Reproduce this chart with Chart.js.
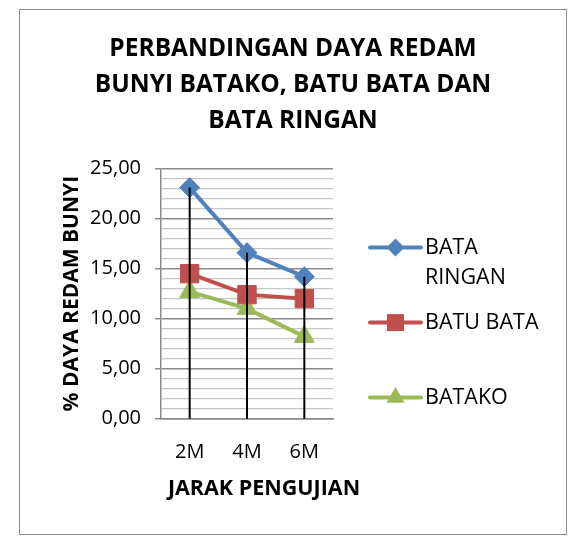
<!DOCTYPE html>
<html lang="id">
<head>
    <meta charset="UTF-8">
    <title>Perbandingan Daya Redam Bunyi</title>
    <script src="https://cdn.jsdelivr.net/npm/chart.js"></script>
    <style>
        * {
            margin: 0;
            padding: 0;
            box-sizing: border-box;
        }

        body {
            background-color: #fff;
            width: 579px;
            height: 541px;
            overflow: hidden;
            position: relative;
        }

        .frame {
            position: absolute;
            left: 19px;
            top: 9px;
            width: 548px;
            height: 526px;
            border: 1.5px solid #8e8e8e;
        }

        #chart {
            position: absolute;
            left: 20px;
            top: 10px;
        }
    </style>
</head>
<body>
    <div class="frame"></div>
    <canvas id="chart" width="546" height="524"></canvas>

    <script>
        // Data
        const categories = ['2M', '4M', '6M'];
        const seriesNames = [['BATA', 'RINGAN'], ['BATU BATA'], ['BATAKO']];
        const bataRingan = [23.1, 16.6, 14.2];
        const batuBata = [14.5, 12.4, 12.0];
        const batako = [12.7, 11.0, 8.2];
        const yMin = 0;
        const yMax = 25;
        const yMajorStep = 5;
        const yMinorStep = 1;
        const xTitle = 'JARAK PENGUJIAN';

        const FONT = "'Open Sans', sans-serif";
        const seriesColors = ['#4F81BD', '#C0504D', '#9BBB59'];
        const seriesMarkers = ['rectRot', 'rect', 'triangle'];
        const markerRadius = [10, 13, 11.5];
        const allSeries = [bataRingan, batuBata, batako];

        // small marker painter for the side legend
        function drawMarker(ctx, style, x, y, r, color) {
            ctx.save();
            ctx.fillStyle = color;
            ctx.beginPath();
            if (style === 'rectRot') {
                ctx.moveTo(x, y - r);
                ctx.lineTo(x + r, y);
                ctx.lineTo(x, y + r);
                ctx.lineTo(x - r, y);
            } else if (style === 'rect') {
                const s = r * Math.SQRT1_2;
                ctx.rect(x - s, y - s, 2 * s, 2 * s);
            } else {
                ctx.moveTo(x, y - r);
                ctx.lineTo(x + r * 0.866, y + r * 0.5);
                ctx.lineTo(x - r * 0.866, y + r * 0.5);
            }
            ctx.closePath();
            ctx.fill();
            ctx.restore();
        }

        // Excel style drop lines: from the highest point down to the axis
        const dropLines = {
            id: 'dropLines',
            afterDatasetsDraw(chart) {
                const ctx = chart.ctx;
                const xs = chart.scales.x;
                const ys = chart.scales.y;
                ctx.save();
                ctx.strokeStyle = '#000';
                ctx.lineWidth = 2;
                categories.forEach((c, i) => {
                    const top = Math.max(...allSeries.map(s => s[i]));
                    const x = xs.getPixelForValue(i);
                    ctx.beginPath();
                    ctx.moveTo(x, ys.getPixelForValue(top));
                    ctx.lineTo(x, ys.getPixelForValue(yMin));
                    ctx.stroke();
                });
                ctx.restore();
            }
        };

        // legend on the right (first item wraps on two lines) + x axis title,
        // which Excel puts a bit right of the plot centre
        const sideLegend = {
            id: 'sideLegend',
            afterDraw(chart) {
                const ctx = chart.ctx;
                const area = chart.chartArea;
                const x0 = area.right + 37;
                let y = area.top + 79;
                ctx.save();
                ctx.textBaseline = 'middle';
                ctx.fillStyle = '#000';

                ctx.font = 'bold 21.5px ' + FONT;
                ctx.textAlign = 'center';
                ctx.fillText(xTitle, (area.left + area.right) / 2 + 17, area.bottom + 70);

                ctx.font = '21.5px ' + FONT;
                ctx.textAlign = 'left';
                seriesNames.forEach((lines, i) => {
                    ctx.strokeStyle = seriesColors[i];
                    ctx.lineWidth = 4;
                    ctx.lineCap = 'round';
                    ctx.beginPath();
                    ctx.moveTo(x0, y);
                    ctx.lineTo(x0 + 51, y);
                    ctx.stroke();
                    drawMarker(ctx, seriesMarkers[i], x0 + 25.5, y, markerRadius[i] - 1, seriesColors[i]);
                    lines.forEach((t, j) => ctx.fillText(t, x0 + 55, y + j * 30.5));
                    y += 75;
                });
                ctx.restore();
            }
        };

        const datasets = allSeries.map((values, i) => ({
            label: seriesNames[i].join(' '),
            data: values,
            borderColor: seriesColors[i],
            backgroundColor: seriesColors[i],
            borderWidth: 4,
            pointStyle: seriesMarkers[i],
            pointRadius: markerRadius[i],
            pointBorderWidth: 1,
            tension: 0
        }));

        new Chart(document.getElementById('chart'), {
            type: 'line',
            data: { labels: categories, datasets: datasets },
            plugins: [dropLines, sideLegend],
            options: {
                responsive: false,
                animation: false,
                layout: { padding: 0 },
                plugins: {
                    legend: { display: false },
                    tooltip: { enabled: false },
                    title: {
                        display: true,
                        text: ['PERBANDINGAN DAYA REDAM', 'BUNYI BATAKO, BATU BATA DAN', 'BATA RINGAN'],
                        color: '#000',
                        font: { family: FONT, size: 24.5, weight: 'bold', lineHeight: 1.457 },
                        padding: { top: 21.5, bottom: 30 }
                    }
                },
                scales: {
                    x: {
                        type: 'category',
                        offset: true,
                        grid: { display: false, drawTicks: false },
                        border: { color: '#8a8a8a', width: 1.5 },
                        ticks: { color: '#000', font: { family: FONT, size: 20 }, padding: 22 },
                        afterFit(scale) { scale.height = 115.3; }
                    },
                    y: {
                        min: yMin,
                        max: yMax,
                        grid: {
                            color: c => c.tick.value % yMajorStep === 0 ? '#8a8a8a' : '#c6c6c6',
                            lineWidth: c => c.tick.value % yMajorStep === 0 ? 1.5 : 1.2,
                            tickColor: c => c.tick.value % yMajorStep === 0 ? '#8a8a8a' : 'rgba(0,0,0,0)',
                            tickLength: 6
                        },
                        border: { color: '#8a8a8a', width: 1.5 },
                        ticks: {
                            stepSize: yMinorStep,
                            autoSkip: false,
                            color: '#000',
                            padding: 14,
                            font: { family: FONT, size: 20 },
                            callback: v => v % yMajorStep === 0 ? v.toFixed(2).replace('.', ',') : ''
                        },
                        title: {
                            display: true,
                            text: '% DAYA REDAM BUNYI',
                            color: '#000',
                            font: { family: FONT, size: 21, weight: 'bold' },
                            padding: { top: 39.5, bottom: 0 }
                        },
                        afterFit(scale) { scale.width = 141; }
                    },
                    // empty axis that only reserves the room used by the legend
                    legendRoom: {
                        position: 'right',
                        grid: { display: false, drawTicks: false },
                        border: { display: false },
                        ticks: { display: false },
                        afterFit(scale) { scale.width = 233; }
                    }
                }
            }
        });
    </script>
</body>
</html>
